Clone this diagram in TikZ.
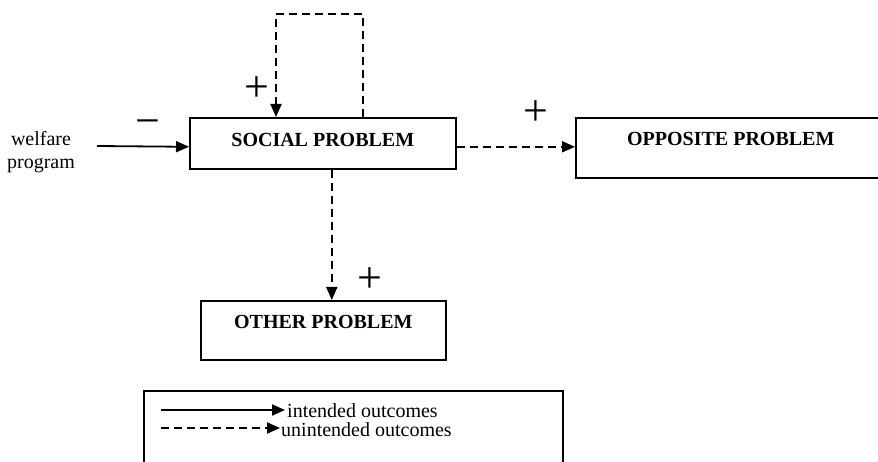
\documentclass[tikz,border=0pt]{standalone}
\usepackage{fontspec}
\setmainfont{Liberation Serif}
\usetikzlibrary{arrows.meta}
\begin{document}
\begin{tikzpicture}[x=1pt,y=-1pt,
		font=\fontsize{20}{23}\selectfont,
		box/.style={draw,line width=1.6pt,inner sep=0pt,anchor=north west,font=\fontsize{20}{23}\selectfont\bfseries},
		intended/.style={line width=1.8pt,-{Triangle[length=13pt,width=11pt]}},
		unintended/.style={intended,dash pattern=on 8pt off 5pt},
		sign/.style={inner sep=0pt,font=\fontsize{44}{44}\selectfont}]
		\useasboundingbox (0,0) rectangle (878,462);

		\node[box,minimum width=266pt,text height=29pt,text depth=22pt] (social) at (189,117) {SOCIAL PROBLEM};
		\node[box,minimum width=310pt,text height=28pt,text depth=32pt] (opposite) at (575,117) {OPPOSITE PROBLEM};
		\node[box,minimum width=245pt,text height=28pt,text depth=31pt] (other) at (200,300) {OTHER PROBLEM};
		\node[align=center] (welfare) at (41,152) {welfare\\program};

		\coordinate (wstart) at (97,146);
		\draw[intended] (wstart) -- (social.base west);

		\coordinate (loopR) at (363,14);
		\coordinate (loopL) at (276,14);
		\draw[unintended] (social.north -| loopR) -- (loopR) -- (loopL) -- (social.north -| loopL);

		\draw[unintended] (social.base east) -- (social.base east -| opposite.west);
		\draw[unintended] ([xshift=9pt]social.south) -- ([xshift=9pt]social.south |- other.north);

		\node[sign] (plusloop) at (257,89) {+};
		\node[sign] (plusopp) at (536,113) {+};
		\node[sign] (plusother) at (370,280) {+};
		\node[sign] (minus) at (148,128) {−};

		\node[draw,line width=1.6pt,minimum width=419pt,minimum height=100pt,anchor=north west] (legend) at (143,390) {};
		\coordinate (solidA) at (161,410);
		\coordinate (solidB) at (285,410);
		\draw[intended] (solidA) -- (solidB);
		\node[anchor=base west,inner sep=0pt] (inttext) at (287,417) {intended outcomes};
		\coordinate (dashA) at (161,428);
		\coordinate (dashB) at (280,428);
		\draw[unintended] (dashA) -- (dashB);
		\node[anchor=base west,inner sep=0pt] (uninttext) at (281,436) {unintended outcomes};
\end{tikzpicture}
\end{document}
